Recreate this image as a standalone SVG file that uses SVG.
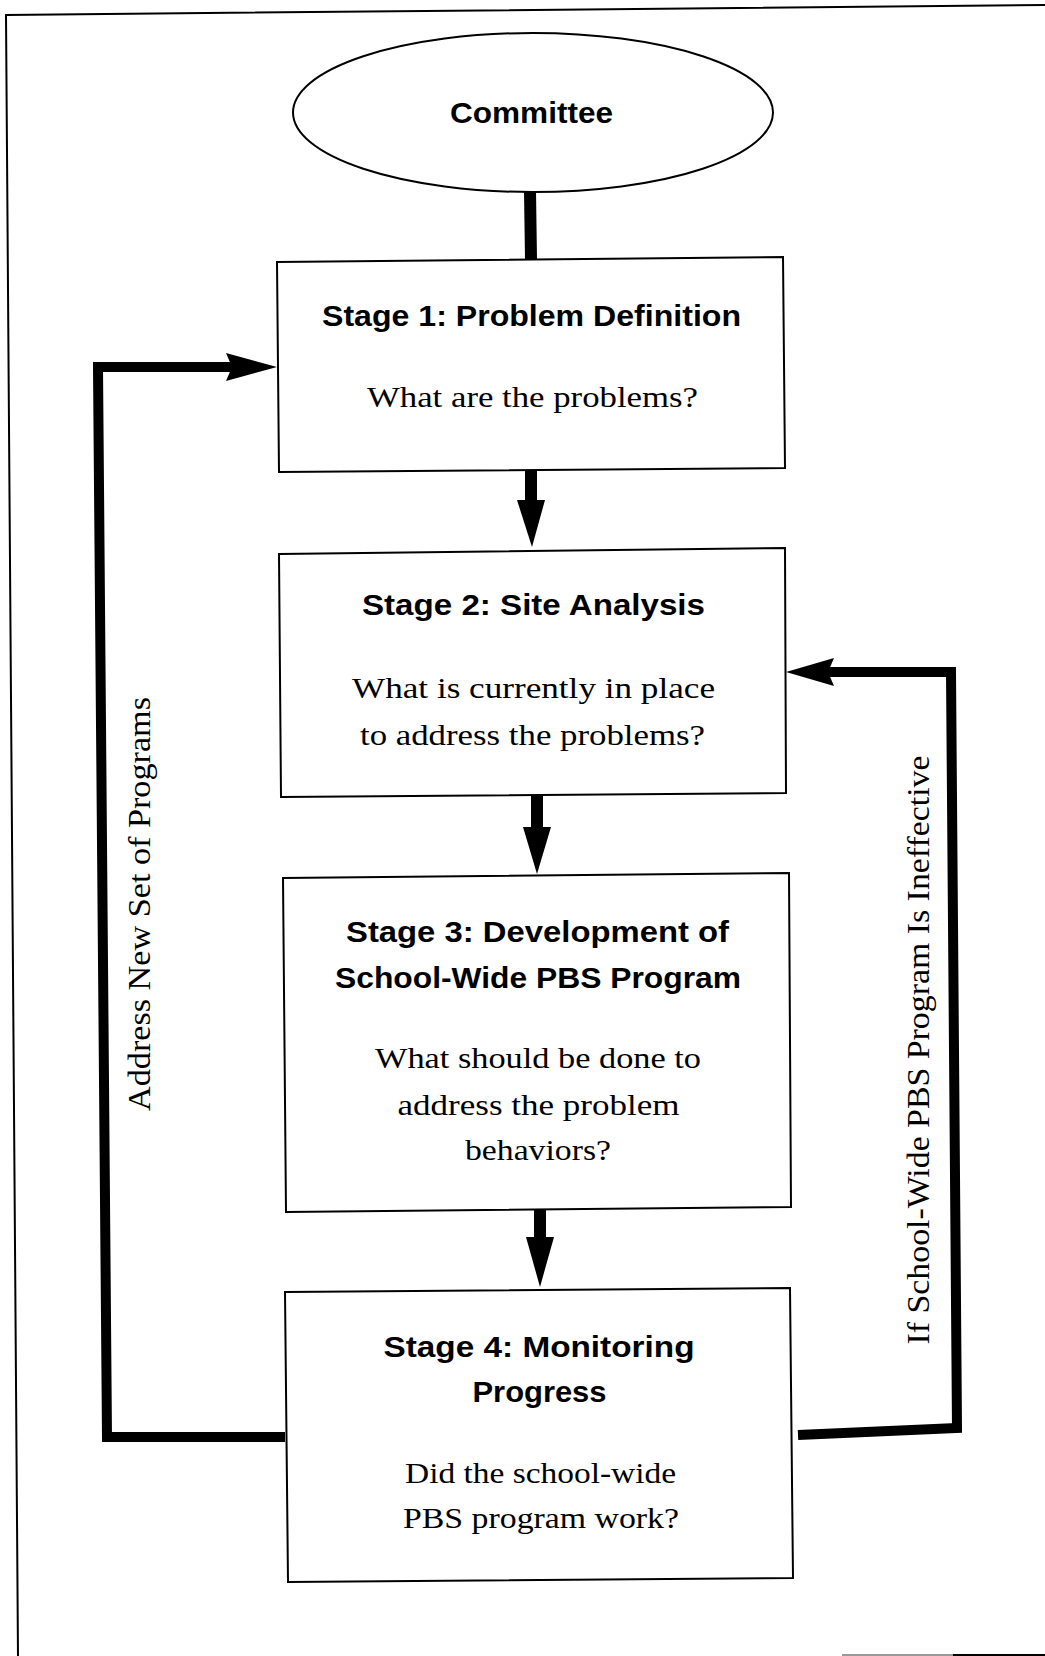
<svg xmlns="http://www.w3.org/2000/svg" width="1045" height="1656" viewBox="0 0 1045 1656">
<style>
.box{fill:#fff;stroke:#000;stroke-width:2}
.title{font-family:"Liberation Sans",Arial,sans-serif;font-weight:bold;font-size:30px;text-anchor:middle;fill:#000}
.body{font-family:"Liberation Serif","Times New Roman",serif;font-size:30px;text-anchor:middle;fill:#000}
.side{font-family:"Liberation Serif","Times New Roman",serif;font-size:32px;text-anchor:middle;fill:#000}
.wire{fill:none;stroke:#000;stroke-width:10;stroke-linejoin:miter}
.shaft{fill:none;stroke:#000;stroke-width:12}
.head{fill:#000;stroke:none}
.frame{fill:none;stroke:#000;stroke-width:2}
</style>
<rect width="1045" height="1656" fill="#fff"/>
<g id="frame">
<polyline class="frame" points="1045,5 6,15 18,1656"/>
<line x1="842" y1="1655" x2="953" y2="1655" stroke="#999" stroke-width="2"/>
<line x1="953" y1="1655" x2="1045" y2="1655" stroke="#000" stroke-width="2"/>
</g>
<g id="connectors">
<line class="shaft" x1="530" y1="191" x2="531" y2="259"/>
<line class="shaft" x1="531" y1="469" x2="531" y2="505"/>
<polygon class="head" points="517,500 545,500 532,547"/>
<line class="shaft" x1="537" y1="795" x2="537" y2="832"/>
<polygon class="head" points="523,827 551,827 537,874"/>
<line class="shaft" x1="540" y1="1209" x2="540" y2="1242"/>
<polygon class="head" points="526,1237 554,1237 540,1287"/>
<polyline class="wire" points="285,1437 107,1437 98,367 232,367"/>
<polygon class="head" points="226,353 277,367 226,381 232,367"/>
<polyline class="wire" points="798,1435 957,1428 951,672 828,672"/>
<polygon class="head" points="834,658 786,672 834,686 828,672"/>
<text class="side" transform="translate(150,904) rotate(-90)" textLength="414" lengthAdjust="spacingAndGlyphs">Address New Set of Programs</text>
<text class="side" transform="translate(929,1050) rotate(-90)" textLength="589" lengthAdjust="spacingAndGlyphs">If School-Wide PBS Program Is Ineffective</text>
</g>
<g id="committee">
<ellipse cx="533" cy="112.5" rx="240" ry="79.5" fill="#fff" stroke="#000" stroke-width="2"/>
<text class="title" x="531.5" y="123" textLength="163" lengthAdjust="spacingAndGlyphs">Committee</text>
</g>
<g id="stage1">
<polygon class="box" points="277,262 783,257 785,468 279,472"/>
<text class="title" x="531.5" y="326" textLength="419" lengthAdjust="spacingAndGlyphs">Stage 1: Problem Definition</text>
<text class="body" x="532.5" y="407" textLength="331" lengthAdjust="spacingAndGlyphs">What are the problems?</text>
</g>
<g id="stage2">
<polygon class="box" points="279,554 785,548 786,793 281,797"/>
<text class="title" x="533.5" y="615" textLength="343" lengthAdjust="spacingAndGlyphs">Stage 2: Site Analysis</text>
<text class="body" x="533.5" y="698" textLength="363" lengthAdjust="spacingAndGlyphs">What is currently in place</text>
<text class="body" x="532.5" y="745" textLength="345" lengthAdjust="spacingAndGlyphs">to address the problems?</text>
</g>
<g id="stage3">
<polygon class="box" points="283,878 789,873 791,1207 286,1212"/>
<text class="title" x="537.5" y="942" textLength="383" lengthAdjust="spacingAndGlyphs">Stage 3: Development of</text>
<text class="title" x="538" y="988" textLength="406" lengthAdjust="spacingAndGlyphs">School-Wide PBS Program</text>
<text class="body" x="538" y="1068" textLength="326" lengthAdjust="spacingAndGlyphs">What should be done to</text>
<text class="body" x="538.5" y="1115" textLength="282" lengthAdjust="spacingAndGlyphs">address the problem</text>
<text class="body" x="538" y="1160" textLength="146" lengthAdjust="spacingAndGlyphs">behaviors?</text>
</g>
<g id="stage4">
<polygon class="box" points="285,1292 790,1288 793,1578 288,1582"/>
<text class="title" x="539" y="1357" textLength="311" lengthAdjust="spacingAndGlyphs">Stage 4: Monitoring</text>
<text class="title" x="539.5" y="1402" textLength="134" lengthAdjust="spacingAndGlyphs">Progress</text>
<text class="body" x="540.5" y="1483" textLength="271" lengthAdjust="spacingAndGlyphs">Did the school-wide</text>
<text class="body" x="541" y="1528" textLength="276" lengthAdjust="spacingAndGlyphs">PBS program work?</text>
</g>
</svg>
